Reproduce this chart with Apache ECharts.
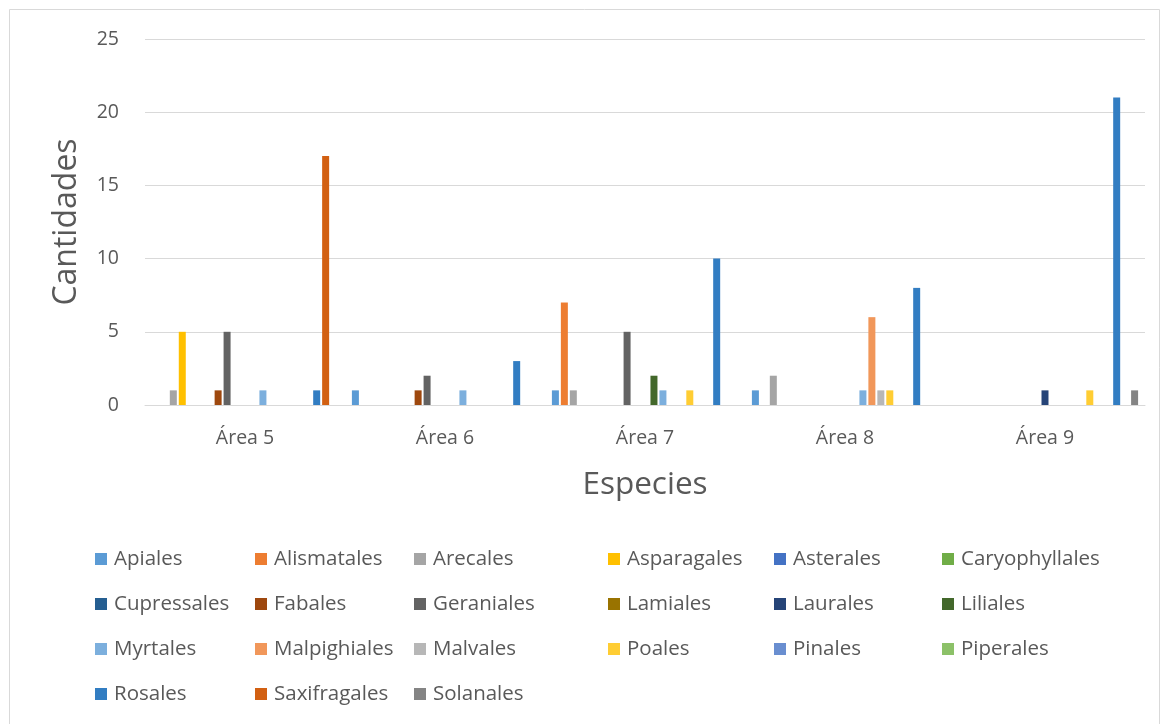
<!DOCTYPE html>
<html>
<head>
<meta charset="utf-8">
<script src="https://cdn.jsdelivr.net/npm/echarts@6/dist/echarts.min.js"></script>
<style>
  html, body { margin: 0; padding: 0; background: #ffffff; }
  #chart { width: 1167px; height: 724px; }
</style>
</head>
<body>
<div id="chart"></div>
<script>
// Survey areas (x axis categories)
const areas = ['Área 5', 'Área 6', 'Área 7', 'Área 8', 'Área 9'];

// Plant orders, in legend order
const orders = [
  'Apiales', 'Alismatales', 'Arecales', 'Asparagales', 'Asterales', 'Caryophyllales',
  'Cupressales', 'Fabales', 'Geraniales', 'Lamiales', 'Laurales', 'Liliales',
  'Myrtales', 'Malpighiales', 'Malvales', 'Poales', 'Pinales', 'Piperales',
  'Rosales', 'Saxifragales', 'Solanales'
];

// Counts per order for Área 5 .. Área 9
const apiales        = [0, 1, 1, 1, 0];
const alismatales    = [0, 0, 7, 0, 0];
const arecales       = [1, 0, 1, 2, 0];
const asparagales    = [5, 0, 0, 0, 0];
const asterales      = [0, 0, 0, 0, 0];
const caryophyllales = [0, 0, 0, 0, 0];
const cupressales    = [0, 0, 0, 0, 0];
const fabales        = [1, 1, 0, 0, 0];
const geraniales     = [5, 2, 5, 0, 0];
const lamiales       = [0, 0, 0, 0, 0];
const laurales       = [0, 0, 0, 0, 1];
const liliales       = [0, 0, 2, 0, 0];
const myrtales       = [1, 1, 1, 1, 0];
const malpighiales   = [0, 0, 0, 6, 0];
const malvales       = [0, 0, 0, 1, 0];
const poales         = [0, 0, 1, 1, 1];
const pinales        = [0, 0, 0, 0, 0];
const piperales      = [0, 0, 0, 0, 0];
const rosales        = [1, 3, 10, 8, 21];
const saxifragales   = [17, 0, 0, 0, 0];
const solanales      = [0, 0, 0, 0, 1];

const values = [
  apiales, alismatales, arecales, asparagales, asterales, caryophyllales,
  cupressales, fabales, geraniales, lamiales, laurales, liliales,
  myrtales, malpighiales, malvales, poales, pinales, piperales,
  rosales, saxifragales, solanales
];

const colors = [
  '#5B9BD5', '#ED7D31', '#A5A5A5', '#FFC000', '#4472C4', '#70AD47',
  '#255E91', '#9E480E', '#636363', '#997300', '#264478', '#43682B',
  '#7CAFDD', '#F1975A', '#B7B7B7', '#FFCD33', '#698ED0', '#8CC168',
  '#327DC2', '#D26012', '#848484'
];

// Y axis ticks
const yMin = 0, yMax = 25, yStep = 5;

const FONT = '"Open Sans"';
const TEXT = '#595959';

const chart = echarts.init(document.getElementById('chart'), null, { renderer: 'canvas' });

const series = orders.map((name, i) => ({
  name: name,
  type: 'bar',
  data: values[i],
  barWidth: 7,
  barGap: '28%',
  itemStyle: { color: colors[i] }
}));

// Legend laid out as six aligned columns
const columnLeft = [90, 250, 409, 603, 769, 937];
const legends = columnLeft.map((left, c) => ({
  orient: 'vertical',
  left: left,
  top: 543,
  itemWidth: 12,
  itemHeight: 12,
  itemGap: 23,
  icon: 'rect',
  selectedMode: false,
  data: orders.filter((_, i) => i % 6 === c),
  textStyle: { fontFamily: FONT, fontSize: 20.5, color: TEXT, lineHeight: 22, padding: [0, 0, 0, 2] }
}));

chart.setOption({
  animation: false,
  backgroundColor: '#ffffff',
  color: colors,
  graphic: [{
    type: 'rect',
    shape: { x: 9.5, y: 9.5, width: 1150, height: 730 },
    style: { fill: 'none', stroke: '#d9d9d9', lineWidth: 1 },
    silent: true
  }],
  grid: { left: 145, right: 22, top: 39, bottom: 319, containLabel: false },
  legend: legends,
  xAxis: {
    type: 'category',
    data: areas,
    name: 'Especies',
    nameLocation: 'middle',
    nameGap: 64,
    nameTextStyle: { fontFamily: FONT, fontSize: 31.5, color: TEXT },
    axisLine: { show: true, lineStyle: { color: '#d9d9d9', width: 1 } },
    axisTick: { show: false },
    axisLabel: { fontFamily: FONT, fontSize: 19.5, color: TEXT, margin: 23 }
  },
  yAxis: {
    type: 'value',
    min: yMin,
    max: yMax,
    interval: yStep,
    name: 'Cantidades',
    nameLocation: 'middle',
    nameGap: 62,
    nameTextStyle: { fontFamily: FONT, fontSize: 32, color: TEXT },
    axisLine: { show: false },
    axisTick: { show: false },
    axisLabel: { fontFamily: FONT, fontSize: 19.5, color: TEXT, margin: 26 },
    splitLine: { lineStyle: { color: '#d9d9d9', width: 1 } }
  },
  series: series
});
</script>
</body>
</html>
